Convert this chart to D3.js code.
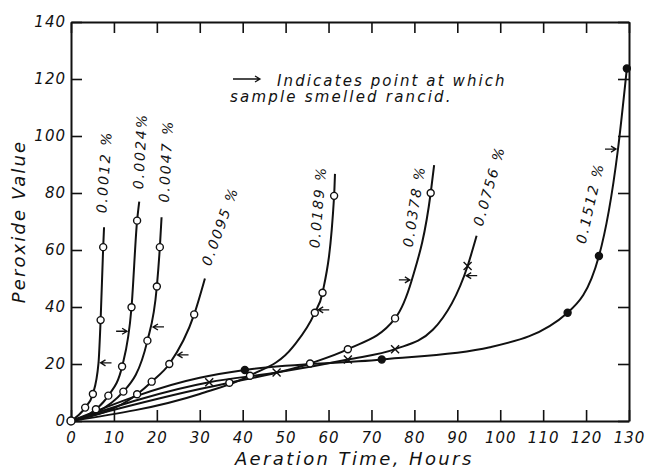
<!DOCTYPE html>
<html>
<head>
<meta charset="utf-8">
<script src="https://cdn.jsdelivr.net/npm/d3@7"></script>
<style>
  body { margin: 0; background: #fff; }
  text { font-family: "DejaVu Sans", sans-serif; font-style: italic; fill: #111; }
</style>
</head>
<body>
<div id="chart"></div>
<script>
// Data
const concentrations = ["0.0012 %", "0.0024%", "0.0047 %", "0.0095 %", "0.0189 %", "0.0378 %", "0.0756 %", "0.1512 %"];
const markerKind = ["open", "open", "open", "open", "open", "open", "cross", "filled"];

// measured points (drawn with a marker); every curve also starts at the origin
const measuredHours = [
  [3.3, 5.1, 6.9, 7.5],
  [5.8, 8.7, 11.9, 14.1, 15.4],
  [12.2, 17.8, 20.0, 20.7],
  [15.4, 18.8, 22.9, 28.7],
  [41.7, 56.8, 58.6, 61.3],
  [36.9, 55.7, 64.5, 75.5, 83.8],
  [32.2, 47.9, 64.5, 75.5, 92.4],
  [40.5, 72.4, 115.7, 123.0, 129.5],
];
const measuredPV = [
  [4.7, 9.5, 35.4, 61],
  [4.1, 8.9, 19.1, 39.9, 70.3],
  [10.3, 28.2, 47.2, 61],
  [9.4, 13.8, 20.0, 37.4],
  [15.9, 38, 45, 79],
  [13.4, 20.2, 25.2, 36, 80],
  [13.6, 17.0, 21.6, 25.2, 54.4],
  [17.9, 21.6, 38, 57.9, 123.7],
];

// other points (no marker), incl. where each line stops
const tracedHours = [
  [6.4, 7.7],
  [15.9],
  [21.1],
  [31.2],
  [30, 51.7, 61.5],
  [30, 79.4, 84.6],
  [84.3, 94.5],
  [30, 97.6, 127.4],
];
const tracedPV = [
  [20.2, 68],
  [77],
  [71.5],
  [50],
  [9.5, 26, 86.7],
  [11.2, 49.5, 89.8],
  [32, 65],
  [15.2, 25.9, 95],
];

// peroxide value where each sample smelled rancid, and the side the arrow comes from
const rancidPV = [20.4, 31.5, 33, 23.2, 39, 49.5, 51, 95.4];
const rancidSide = ["right", "left", "right", "right", "right", "left", "right", "left"];

const xTicks = d3.range(0, 131, 10);
const yTicks = d3.range(0, 141, 20);

// label placement (data units) and slant of each curve label
const labelAt = [
  { t: 7.7, v: 87.4, angle: -86 },
  { t: 16.1, v: 94.7, angle: -87 },
  { t: 22.1, v: 91.2, angle: -87 },
  { t: 34.7, v: 68.4, angle: -70 },
  { t: 57.5, v: 75.1, angle: -85 },
  { t: 79.9, v: 75.4, angle: -81 },
  { t: 97.4, v: 82.5, angle: -74 },
  { t: 120.9, v: 76.5, angle: -77 },
];

// Dimensions
const dimensions = {
  width: 647,
  height: 470,
  margins: { top: 22, right: 18, bottom: 49, left: 71 },
};
dimensions.ctrWidth = dimensions.width - dimensions.margins.left - dimensions.margins.right;
dimensions.ctrHeight = dimensions.height - dimensions.margins.top - dimensions.margins.bottom;

// Draw Image
const svg = d3
  .select("#chart")
  .append("svg")
  .attr("width", dimensions.width)
  .attr("height", dimensions.height);

const ctr = svg
  .append("g")
  .attr("transform", `translate(${dimensions.margins.left}, ${dimensions.margins.top})`);

const xScale = d3.scaleLinear().domain([0, 130]).range([0, dimensions.ctrWidth]);
const yScale = d3.scaleLinear().domain([0, 140]).range([dimensions.ctrHeight, 0]);

// Axes (ticks point inward on all four sides)
const styleAxis = (g) => {
  g.selectAll("path").attr("stroke", "#111").attr("stroke-width", 2);
  g.selectAll("line").attr("stroke", "#111").attr("stroke-width", 1.6);
  g.selectAll("text")
    .attr("fill", "#111")
    .style("font-size", "15px")
    .style("letter-spacing", "1px");
};

ctr.append("g")
  .attr("transform", `translate(0, ${dimensions.ctrHeight})`)
  .call(d3.axisBottom(xScale).tickValues(xTicks).tickSize(-11).tickSizeOuter(0).tickPadding(11))
  .call(styleAxis);

ctr.append("g")
  .call(d3.axisTop(xScale).tickValues(xTicks).tickSize(-11).tickSizeOuter(0).tickFormat(""))
  .call(styleAxis);

ctr.append("g")
  .call(d3.axisLeft(yScale).tickValues(yTicks).tickSize(-11).tickSizeOuter(0).tickPadding(5))
  .call(styleAxis);

ctr.append("g")
  .attr("transform", `translate(${dimensions.ctrWidth}, 0)`)
  .call(d3.axisRight(yScale).tickValues(yTicks).tickSize(-11).tickSizeOuter(0).tickFormat(""))
  .call(styleAxis);

// Axis titles
svg.append("text")
  .attr("x", dimensions.margins.left + xScale(66))
  .attr("y", 465)
  .attr("text-anchor", "middle")
  .style("font-size", "18px")
  .style("letter-spacing", "2.4px")
  .text("Aeration Time, Hours");

svg.append("text")
  .attr("transform", `translate(25, ${dimensions.margins.top + yScale(70)}) rotate(-90)`)
  .attr("text-anchor", "middle")
  .style("font-size", "18px")
  .style("letter-spacing", "2.1px")
  .text("Peroxide Value");

// Curves
const lineGenerator = d3
  .line()
  .x((d) => xScale(d[0]))
  .y((d) => yScale(d[1]))
  .curve(d3.curveMonotoneX);

const curveNodes = concentrations.map((name, i) => {
  const pts = [[0, 0]]
    .concat(measuredHours[i].map((h, j) => [h, measuredPV[i][j]]))
    .concat(tracedHours[i].map((h, j) => [h, tracedPV[i][j]]))
    .sort((a, b) => a[0] - b[0]);
  return ctr
    .append("path")
    .datum(pts)
    .attr("d", lineGenerator)
    .attr("fill", "none")
    .attr("stroke", "#111")
    .attr("stroke-width", 2)
    .node();
});

// Markers
concentrations.forEach((name, i) => {
  const pts = measuredHours[i].map((h, j) => [h, measuredPV[i][j]]);
  const kind = markerKind[i];
  if (kind === "cross") {
    ctr.append("g")
      .selectAll("path")
      .data(pts)
      .join("path")
      .attr("transform", (d) => `translate(${xScale(d[0])}, ${yScale(d[1])})`)
      .attr("d", "M-4,-4L4,4M-4,4L4,-4")
      .attr("stroke", "#111")
      .attr("stroke-width", 1.4);
  } else {
    ctr.append("g")
      .selectAll("circle")
      .data(pts)
      .join("circle")
      .attr("cx", (d) => xScale(d[0]))
      .attr("cy", (d) => yScale(d[1]))
      .attr("r", 3.5)
      .attr("fill", kind === "filled" ? "#111" : "#fff")
      .attr("stroke", "#111")
      .attr("stroke-width", 1.4);
  }
});

// origin point shared by all samples
ctr.append("circle")
  .attr("cx", xScale(0))
  .attr("cy", yScale(0))
  .attr("r", 4)
  .attr("fill", "#fff")
  .attr("stroke", "#111")
  .attr("stroke-width", 1.5);

// Rancid arrows
function xOnCurve(node, py) {
  const total = node.getTotalLength();
  let best = null;
  let bestD = Infinity;
  for (let s = 0; s <= total; s += 0.5) {
    const p = node.getPointAtLength(s);
    const d = Math.abs(p.y - py);
    if (d < bestD) {
      bestD = d;
      best = p;
    }
  }
  return best.x;
}

function arrow(x1, x2, y) {
  const dir = Math.sign(x2 - x1);
  return `M${x1},${y}L${x2},${y}M${x2 - dir * 5},${y - 3}L${x2},${y}L${x2 - dir * 5},${y + 3}`;
}

rancidPV.forEach((v, i) => {
  const py = yScale(v);
  const cx = xOnCurve(curveNodes[i], py);
  const s = rancidSide[i] === "left" ? -1 : 1;
  ctr.append("path")
    .attr("d", arrow(cx + s * 13, cx + s * 2, py))
    .attr("fill", "none")
    .attr("stroke", "#111")
    .attr("stroke-width", 1.3);
});

// Curve labels
concentrations.forEach((name, i) => {
  const pos = labelAt[i];
  ctr.append("text")
    .attr("transform", `translate(${xScale(pos.t)}, ${yScale(pos.v)}) rotate(${pos.angle})`)
    .attr("text-anchor", "middle")
    .attr("dominant-baseline", "central")
    .style("font-size", "14px")
    .style("letter-spacing", "2px")
    .text(name);
});

// Note
svg.append("path")
  .attr("d", arrow(233, 260, 79))
  .attr("fill", "none")
  .attr("stroke", "#111")
  .attr("stroke-width", 1.3);

svg.append("text")
  .attr("x", 277)
  .attr("y", 86)
  .style("font-size", "15px")
  .style("letter-spacing", "2.1px")
  .text("Indicates point at which");

svg.append("text")
  .attr("x", 230)
  .attr("y", 102)
  .style("font-size", "15px")
  .style("letter-spacing", "2.2px")
  .text("sample smelled rancid.");
</script>
</body>
</html>
